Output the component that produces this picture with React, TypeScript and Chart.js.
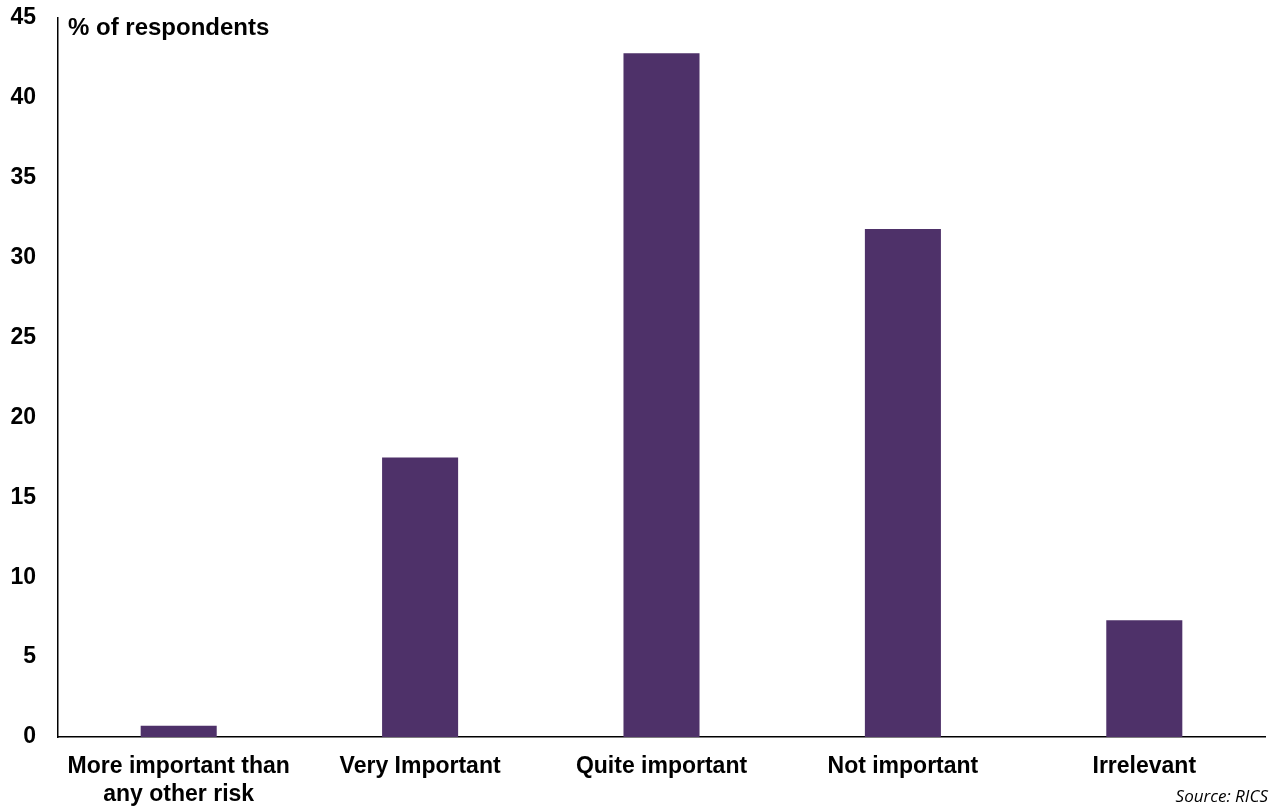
import React, { useEffect, useRef } from "react";
import { Chart, registerables } from "chart.js";

Chart.register(...registerables);

const categories: (string | string[])[] = [
  ["More important than", "any other risk"],
  "Very Important",
  "Quite important",
  "Not important",
  "Irrelevant",
];
const values: number[] = [0.7, 17.5, 42.8, 31.8, 7.3];
const yTitle = "% of respondents";
const sourceText = "Source: RICS";

const FONT = "'Liberation Sans', Arial, sans-serif";

export default function App() {
  const ref = useRef<HTMLCanvasElement | null>(null);
  useEffect(() => {
    if (!ref.current) return;
    const overlay = {
      id: "overlay",
      afterDraw(chart: any) {
        const { ctx, chartArea } = chart;
        ctx.save();
        ctx.fillStyle = "#000";
        ctx.font = `bold 24px ${FONT}`;
        ctx.textAlign = "left";
        ctx.textBaseline = "middle";
        ctx.fillText(yTitle, chartArea.left + 10, 28);
        ctx.font = "italic 17px 'Open Sans', sans-serif";
        ctx.textAlign = "right";
        ctx.fillText(sourceText, 1268, 797);
        ctx.restore();
      },
    };
    const chart = new Chart(ref.current, {
      type: "bar",
      data: {
        labels: categories,
        datasets: [
          {
            data: values,
            backgroundColor: "#4E3169",
            borderWidth: 0,
            barPercentage: 0.315,
            categoryPercentage: 1,
          },
        ],
      },
      options: {
        responsive: false,
        animation: false,
        devicePixelRatio: 1,
        layout: { padding: { top: 18, right: 9, bottom: 0, left: 0 } },
        plugins: {
          legend: { display: false },
          title: { display: false },
          tooltip: { enabled: false },
        },
        scales: {
          x: {
            grid: { display: false, drawTicks: false },
            border: { color: "#000", width: 1.5 },
            ticks: {
              color: "#000",
              font: { family: FONT, size: 23, weight: "bold", lineHeight: 1.2 },
              padding: 16,
              maxRotation: 0,
              autoSkip: false,
            },
            afterFit(scale: any) {
              scale.height = 70;
              scale.paddingLeft = 0;
              scale.paddingRight = 0;
            },
          },
          y: {
            min: 0,
            max: 45,
            grid: { display: false, drawTicks: false },
            border: { color: "#000", width: 1.5 },
            ticks: {
              stepSize: 5,
              color: "#000",
              font: { family: FONT, size: 23, weight: "bold" },
              padding: 22,
            },
            afterFit(scale: any) {
              scale.width = 58;
              scale.paddingTop = 0;
              scale.paddingBottom = 0;
            },
          },
        },
      },
      plugins: [overlay],
    });
    return () => chart.destroy();
  }, []);
  return (
    <div style={{ position: "absolute", left: 0, top: 0, width: 1274, height: 807, background: "#fff" }}>
      <canvas ref={ref} width={1274} height={807} />
    </div>
  );
}
